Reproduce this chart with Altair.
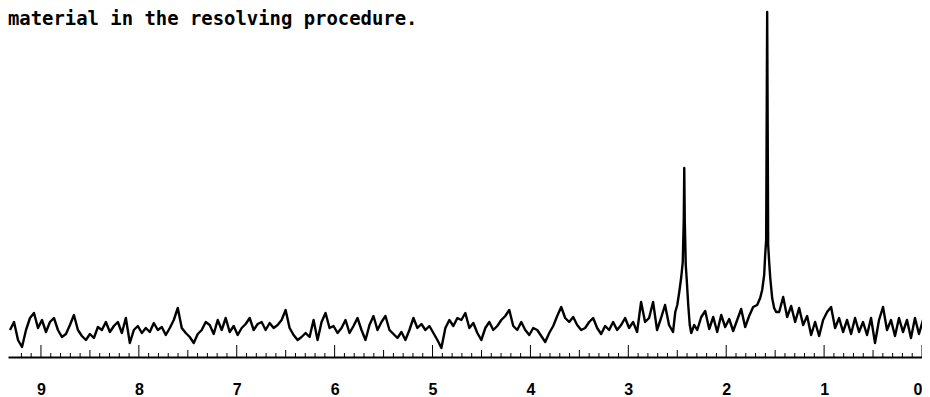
import altair as alt
import pandas as pd

caption = "material in the resolving procedure."

axis_labels = [0, 1, 2, 3, 4, 5, 6, 7, 8, 9]
half_ticks = [0.5, 1.5, 2.5, 3.5, 4.5, 5.5, 6.5, 7.5, 8.5]
minor_ticks = [round(k / 10, 1) for k in range(0, 93) if k % 5 != 0]

# baseline noise, sampled every 0.0408 ppm
STEP = 0.0408
seg_a_start = 9.316
seg_a = [27, 35, 17, 10, 27, 39, 44, 29, 37, 25, 35, 39, 27, 20, 23, 32, 42, 27, 21, 17,
         23, 19, 30, 27, 35, 25, 31, 35, 24, 39, 14, 27, 31, 24, 29, 25, 34, 27, 30, 22,
         29, 37, 49, 29, 24, 20, 14, 23, 27, 35, 32, 23, 37, 27, 39, 25, 31, 22, 29, 33,
         39, 27, 33, 35, 27, 34, 29, 32, 37, 47, 29, 22, 17, 20, 24, 20, 37, 17, 35, 44,
         29, 31, 24, 29, 37, 24, 31, 39, 27, 17, 32, 41, 27, 35, 41, 27, 23, 19, 25, 17,
         27, 39, 29, 33, 27, 31, 24, 17, 9, 29, 37, 31, 39, 37, 44, 29, 34, 24, 17, 29,
         35, 27, 31, 37, 41, 47, 31, 27, 35, 27, 22, 29, 27, 21, 15, 24, 31, 41, 50, 39,
         35, 40, 32, 27, 29, 35, 39, 29, 23, 31, 27, 35, 27, 32, 39, 29, 35, 25, 55, 35,
         39, 55, 27, 39, 52, 32, 25]
seg_b_start = 2.296
seg_b = [27, 40, 46, 28, 40, 25, 42, 30, 38, 26, 37, 48, 30, 41, 50]
seg_c_start = 1.459
seg_c = [45, 60, 40, 51, 35, 49, 32, 41, 22, 35, 21, 37, 45, 50, 29, 39, 25, 37, 23, 39,
         25, 35, 22, 39, 14, 37, 50, 27, 37, 21, 39, 25, 37, 19, 39, 23, 37, 19]

# peaks
peak1_ppm = [2.5204, 2.5000, 2.4796, 2.4592, 2.4439, 2.4337, 2.4286, 2.4235, 2.4133,
             2.4031, 2.3878, 2.3724, 2.3571, 2.3265]
peak1_int = [45, 52, 65, 80, 95, 137, 189, 137, 92, 77, 52, 32, 24, 32]
peak2_ppm = [1.6837, 1.6531, 1.6327, 1.6122, 1.6020, 1.5918, 1.5857, 1.5816, 1.5776,
             1.5714, 1.5612, 1.5510, 1.5306, 1.5102, 1.4898]
peak2_int = [52, 59, 67, 82, 102, 117, 257, 345, 257, 112, 95, 80, 59, 49, 45]

rows = []
for start, seg in ((seg_a_start, seg_a), (seg_b_start, seg_b), (seg_c_start, seg_c)):
    for i, v in enumerate(seg):
        rows.append((start - STEP * i, v))
rows += list(zip(peak1_ppm, peak1_int))
rows += list(zip(peak2_ppm, peak2_int))
df = pd.DataFrame(rows, columns=["ppm", "intensity"]).sort_values("ppm", ascending=False)
df["order"] = range(len(df))

xscale = alt.Scale(domain=[0, 9.3367], reverse=True, nice=False, zero=False)
yscale = alt.Scale(domain=[0, 349], nice=False, zero=True)
xaxis = alt.Axis(values=axis_labels, format="d", tickSize=0, labelPadding=24,
                 labelFont="Liberation Sans", labelFontWeight="bold",
                 labelFontSize=16, labelColor="black", domainColor="black",
                 domainWidth=2, grid=False, title=None, labelFlush=True)

spectrum = alt.Chart(df).mark_line(color="black", strokeWidth=2.4, strokeJoin="round").encode(
    x=alt.X("ppm:Q", scale=xscale, axis=xaxis),
    y=alt.Y("intensity:Q", scale=yscale, axis=None),
    order="order:Q",
)

def tick_layer(vals, h):
    return alt.Chart(pd.DataFrame({"ppm": vals})).mark_rule(color="black", strokeWidth=1).encode(
        x=alt.X("ppm:Q", scale=xscale, axis=xaxis),
        y=alt.value(349),
        y2=alt.value(349 - h),
    )

text = alt.Chart(pd.DataFrame({"t": [caption]})).mark_text(
    align="left", baseline="alphabetic", font="DejaVu Sans Mono", fontWeight="bold",
    fontSize=18.9, color="black"
).encode(x=alt.value(0), y=alt.value(17), text="t:N")

chart = alt.layer(
    spectrum,
    tick_layer(minor_ticks, 4),
    tick_layer(half_ticks, 7),
    tick_layer(axis_labels, 12),
    text,
).properties(
    width=914, height=349,
    autosize=alt.AutoSizeParams(type="none"),
    padding={"left": 0, "top": 0, "right": 0, "bottom": 40},
    background="white",
).configure_view(stroke=None)

chart.save("out.html", embed_options={"renderer": "svg", "actions": False})
